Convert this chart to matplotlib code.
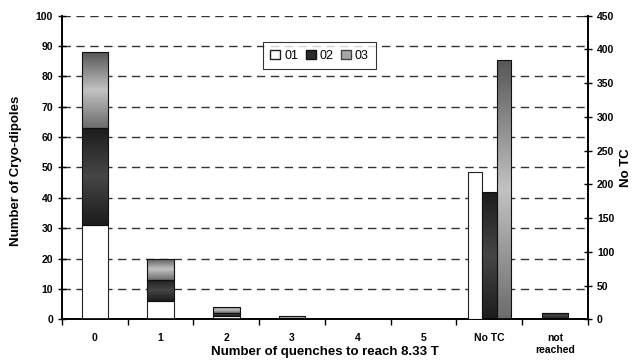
import numpy as np
import matplotlib.pyplot as plt
from matplotlib.colors import LinearSegmentedColormap
from matplotlib.patches import Patch

plt.rcParams['font.family'] = ['Liberation Sans', 'DejaVu Sans']

categories = ['0', '1', '2', '3', '4', '5', 'No TC', 'not\nreached']
# stacked counts for quench categories (left axis)
s01 = [31, 6, 1, 0, 0, 0, 0, 0]
s02 = [32, 7, 1, 0, 0, 0, 0, 2]
s03 = [25, 7, 2, 1, 0, 0, 0, 0]
# No TC counts (right axis)
notc_labels = ['01', '02', '03']
notc_vals = [219, 188, 384]

cm02 = LinearSegmentedColormap.from_list('g02', ['#1c1c1c', '#464646', '#1c1c1c'])
cm03 = LinearSegmentedColormap.from_list('g03', ['#565656', '#c2c2c2', '#6c6c6c'])
grad = np.linspace(0, 1, 256).reshape(-1, 1)


def shade(ax, bars, cmap):
    for p in bars:
        if p.get_height() <= 0:
            continue
        x0, y0 = p.get_x(), p.get_y()
        x1, y1 = x0 + p.get_width(), y0 + p.get_height()
        im = ax.imshow(grad, cmap=cmap, extent=(x0, x1, y0, y1), origin='upper',
                       aspect='auto', zorder=2.5, interpolation='bilinear')
        im.set_clip_path(p)


fig = plt.figure(figsize=(6.34, 3.62), dpi=100)
ax = fig.add_axes([0.0978, 0.118, 0.8296, 0.8386])
ax2 = ax.twinx()

x = np.arange(len(categories))
w = 0.406
b01 = np.array(s01)
b02 = np.array(s02)
ax.bar(x, b01, w, color='white', edgecolor='#222222', linewidth=0.8, zorder=3)
r2 = ax.bar(x, b02, w, bottom=b01, facecolor='none', edgecolor='#111111', linewidth=0.8, zorder=3)
r3 = ax.bar(x, s03, w, bottom=b01 + b02, facecolor='none', edgecolor='#111111', linewidth=0.8, zorder=3)
shade(ax, r2, cm02)
shade(ax, r3, cm03)

# No TC on the right axis
nw = 0.22
ax2.bar(6 - nw, notc_vals[0], nw, color='white', edgecolor='#222222', linewidth=0.8, zorder=3)
n2 = ax2.bar(6, notc_vals[1], nw, facecolor='none', edgecolor='#111111', linewidth=0.8, zorder=3)
n3 = ax2.bar(6 + nw, notc_vals[2], nw, facecolor='none', edgecolor='#111111', linewidth=0.8, zorder=3)
shade(ax2, n2, cm02)
shade(ax2, n3, cm03)

ax.set_xlim(-0.5, 7.5)
ax.set_ylim(0, 100)
ax2.set_ylim(0, 450)
ax.set_yticks(np.arange(0, 101, 10))
ax2.set_yticks(np.arange(0, 451, 50))
ax.set_xticks(x)
ax.set_xticklabels(categories, fontsize=7.5, fontweight='bold', va='top')
ax.set_xticks(np.arange(-0.5, 8, 1), minor=True)
ax.tick_params(axis='x', which='major', length=0, pad=10)
ax.tick_params(axis='x', which='minor', length=4, direction='out', width=1)
ax.tick_params(axis='y', direction='inout', length=6, width=1, labelsize=7.5)
ax2.tick_params(axis='y', direction='inout', length=6, width=1, labelsize=7.5)
for lab in ax.get_yticklabels() + ax2.get_yticklabels():
    lab.set_fontweight('bold')

ax.yaxis.grid(True, linestyle=(0, (6, 4)), color='#333333', linewidth=1)
ax.set_axisbelow(True)
for a in (ax, ax2):
    a.spines['top'].set_visible(False)
    for s in ('left', 'right', 'bottom'):
        a.spines[s].set_linewidth(1.2)

ax.set_xlabel('Number of quenches to reach 8.33 T', fontsize=9.5, fontweight='bold')
ax.xaxis.set_label_coords(0.5, -0.088)
ax.set_ylabel('Number of Cryo-dipoles', fontsize=9.5, fontweight='bold')
ax.yaxis.set_label_coords(-0.077, 0.49)
ax2.set_ylabel('No TC', fontsize=9.5, fontweight='bold', labelpad=4)

handles = [Patch(facecolor='white', edgecolor='#222222'),
           Patch(facecolor='#2a2a2a', edgecolor='#111111'),
           Patch(facecolor='#a8a8a8', edgecolor='#444444')]
leg = ax2.legend(handles, notc_labels, loc='upper left', bbox_to_anchor=(0.382, 0.913),
                 borderaxespad=0, ncol=3, fontsize=9, frameon=True, fancybox=False,
                 handlelength=0.8, handleheight=0.8, handletextpad=0.3, columnspacing=0.6,
                 borderpad=0.6)
leg.get_frame().set_edgecolor('black')
leg.get_frame().set_linewidth(0.8)

fig.savefig('out.png', dpi=100)
